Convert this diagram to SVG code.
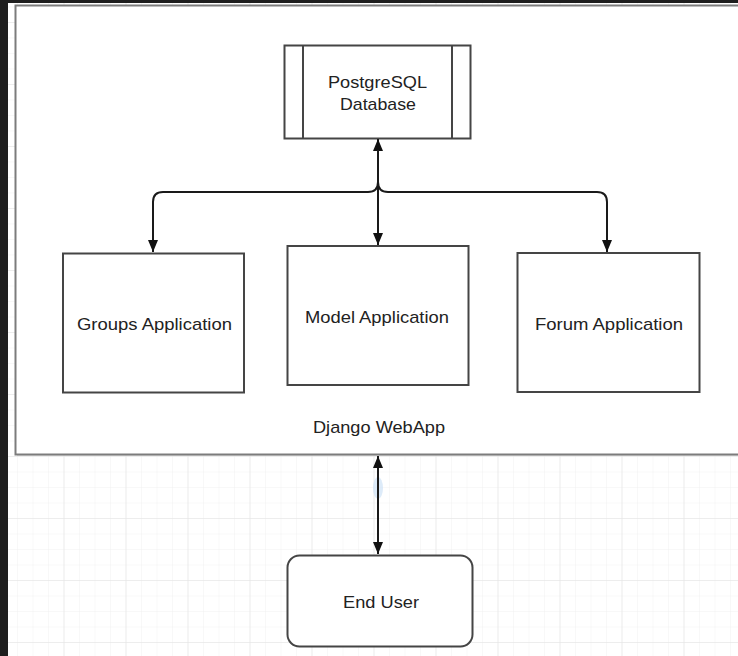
<svg xmlns="http://www.w3.org/2000/svg" width="738" height="656" viewBox="0 0 738 656">
  <defs>
    <pattern id="minor" x="1.5" y="456" width="15.5" height="15.5" patternUnits="userSpaceOnUse">
      <path d="M0,0 V15.5 M0,0 H15.5" fill="none" stroke="#f1f1f1" stroke-width="1"/>
    </pattern>
    <pattern id="major" x="1.5" y="456" width="62" height="62" patternUnits="userSpaceOnUse">
      <path d="M0,0 V62 M0,0 H62" fill="none" stroke="#e2e2e2" stroke-width="1"/>
    </pattern>
    <marker id="arr" viewBox="0 0 12 10" refX="12" refY="5" markerWidth="12" markerHeight="10" markerUnits="userSpaceOnUse" orient="auto-start-reverse">
      <path d="M0,0 L12,5 L0,10 z" fill="#111"/>
    </marker>
  </defs>
  <style>
    .node { fill: #ffffff; stroke: #454545; stroke-width: 2; }
    .lbl { font-family: "Liberation Sans", Arial, sans-serif; font-size: 17px; fill: #222; text-anchor: middle; }
    .conn { fill: none; stroke: #1a1a1a; stroke-width: 2; }
  </style>

  <!-- canvas background -->
  <rect x="0" y="0" width="738" height="656" fill="#ffffff"/>
  <rect x="0" y="0" width="738" height="656" fill="url(#minor)"/>
  <rect x="0" y="0" width="738" height="656" fill="url(#major)"/>
  <rect x="0" y="0" width="8" height="656" fill="#1e1e1e"/>
  <rect x="0" y="0" width="738" height="3" fill="#1e1e1e"/>

  <!-- container -->
  <g id="django-webapp">
    <rect x="17" y="7" width="730" height="449" fill="#d0d0d0" opacity="0.6"/>
    <rect x="15.5" y="5.5" width="730" height="449" fill="#ffffff" stroke="#7c7c7c" stroke-width="2"/>
    <text class="lbl" x="379" y="433" textLength="132" lengthAdjust="spacingAndGlyphs">Django WebApp</text>
  </g>

  <g id="postgresql">
    <rect class="node" x="284.5" y="45.5" width="186" height="93"/>
    <line x1="303" y1="45.5" x2="303" y2="138.5" stroke="#454545" stroke-width="2"/>
    <line x1="452" y1="45.5" x2="452" y2="138.5" stroke="#454545" stroke-width="2"/>
    <text class="lbl" x="377.5" y="88" textLength="99" lengthAdjust="spacingAndGlyphs">PostgreSQL</text>
    <text class="lbl" x="378" y="110" textLength="76" lengthAdjust="spacingAndGlyphs">Database</text>
  </g>

  <g id="groups-app">
    <rect class="node" x="63" y="253.5" width="181" height="139"/>
    <text class="lbl" x="154.5" y="330" textLength="155" lengthAdjust="spacingAndGlyphs">Groups Application</text>
  </g>

  <g id="model-app">
    <rect class="node" x="287.5" y="246" width="181" height="139"/>
    <text class="lbl" x="377" y="323" textLength="144" lengthAdjust="spacingAndGlyphs">Model Application</text>
  </g>

  <g id="forum-app">
    <rect class="node" x="517.5" y="253" width="182" height="139"/>
    <text class="lbl" x="609" y="330" textLength="148" lengthAdjust="spacingAndGlyphs">Forum Application</text>
  </g>

  <g id="end-user">
    <rect class="node" x="287.5" y="555.5" width="185" height="91" rx="12" ry="12"/>
    <text class="lbl" x="381" y="608" textLength="76" lengthAdjust="spacingAndGlyphs">End User</text>
  </g>

  <g id="connectors">
    <ellipse cx="378" cy="488" rx="5" ry="11" fill="#cfe2f6" opacity="0.7"/>
    <path class="conn" d="M378,139 V245" marker-start="url(#arr)" marker-end="url(#arr)"/>
    <path class="conn" d="M378,150 V182 Q378,192 368,192 H163 Q153,192 153,202 V252" marker-end="url(#arr)"/>
    <path class="conn" d="M378,150 V182 Q378,192 388,192 H597 Q607,192 607,202 V252" marker-end="url(#arr)"/>
    <path class="conn" d="M378,456 V554" marker-start="url(#arr)" marker-end="url(#arr)"/>
  </g>
</svg>
